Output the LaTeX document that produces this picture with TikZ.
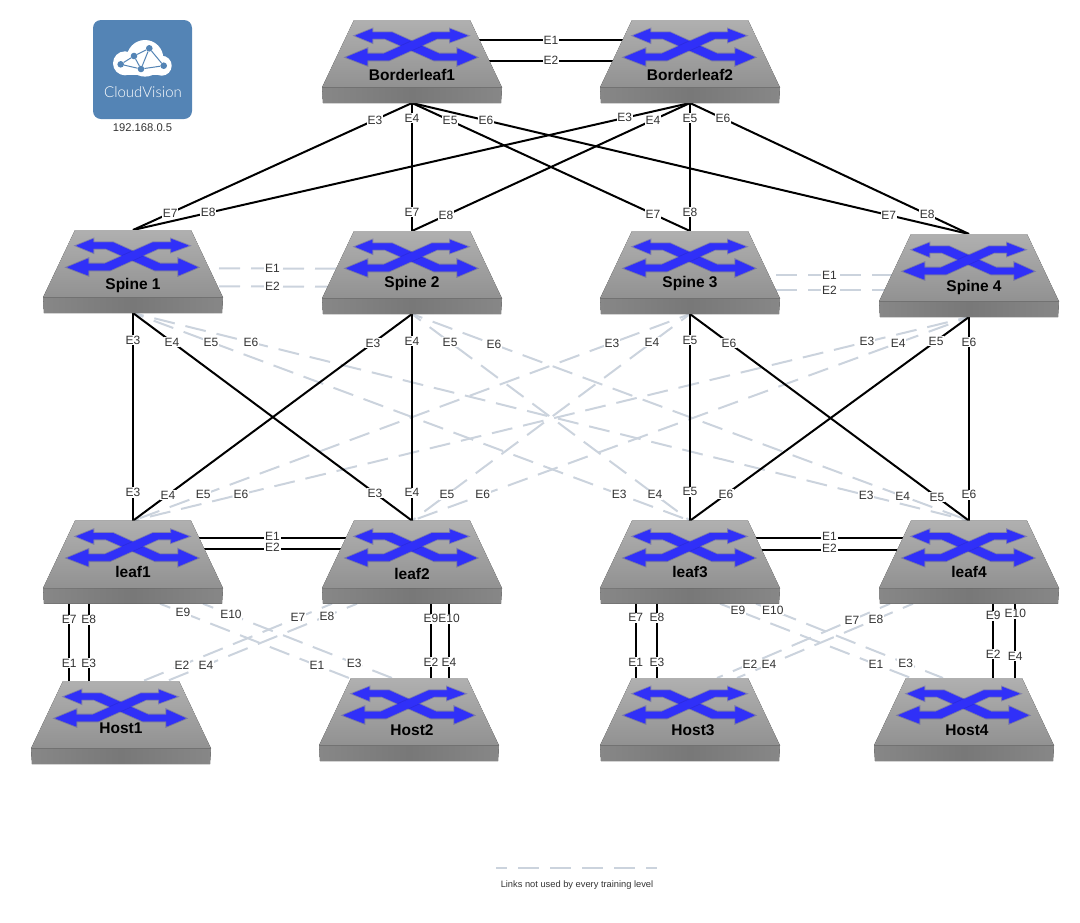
\documentclass[tikz,border=0pt]{standalone}
\usepackage{fontspec}
\setmainfont{Liberation Sans}
\newfontfamily\logofont{Lato Light}
\pgfdeclarelayer{background}
\pgfsetlayers{background,main}

\definecolor{unused}{HTML}{CBD3DD}
\definecolor{swblue}{HTML}{3030F8}
\definecolor{cvblue}{HTML}{5484B5}
\definecolor{labelgray}{HTML}{333333}

\tikzset{
    swbody/.style={rectangle, minimum width=180pt, minimum height=83pt, inner sep=0pt, outer sep=0pt},
    swlabel/.style={font=\fontsize{15.5}{16}\selectfont\bfseries, text=black, inner sep=0pt},
    swarrow/.style={fill=swblue, draw=swblue, line width=.8pt, line join=round, preaction={draw=swblue!70!black, line width=2.6pt, opacity=.3}},
    elabel/.style={font=\fontsize{12}{12}\selectfont, text=labelgray, fill=white, inner sep=0.8pt},
    used/.style={draw=black, line width=2pt},
    notused/.style={draw=unused, line width=2pt, dash pattern=on 21pt off 11pt, dash phase=10pt},
    netdot/.style={circle, fill=cvblue, minimum size=6.6pt, inner sep=0pt},
    netline/.style={draw=cvblue, line width=1pt}
}

% #1 name, #2 centre x, #3 top y, #4 text, #5 text x offset, #6 text y offset
\newcommand{\switchbox}[6]{
    \begin{scope}[shift={(#2,#3)}]
        \node (#1) [swbody] at (0,41.5) {};
        \fill[left color=black!47, right color=black!47, middle color=black!53]
            (-90,67.5) -- (90,67.5) -- (89,83) -- (-89,83) -- cycle;
        \fill[top color=black!31, middle color=black!34, bottom color=black!43]
            (-58,0) -- (58,0) -- (90,67.5) -- (-90,67.5) -- cycle;
        \path[swarrow] (-56,15.7) -- (-40,9.3) -- (-40,12.7) -- (-20,12.7) -- (27,34) -- (45.7,34) -- (45.7,29)
            -- (64,37.3) -- (45.7,45) -- (45.7,40) -- (22,40) -- (-27,18.3) -- (-40,18.3) -- (-40,22.3) -- cycle;
        \path[swarrow] (-65,37.3) -- (-45,29) -- (-45,34) -- (-28,34) -- (20,12.7) -- (38.3,12.7) -- (38.3,9.3)
            -- (55,15.7) -- (38.3,21.7) -- (38.3,18.3) -- (25,18.3) -- (-23,40) -- (-45,40) -- (-45,45) -- cycle;
        \node (#1label) [swlabel] at (#5,#6) {#4};
    \end{scope}
}

\begin{document}
\begin{tikzpicture}[x=1pt, y=-1pt]

        \useasboundingbox (0,0) rectangle (1080,922);

        % CloudVision logo
        \node (cvbox) [rectangle, rounded corners=8pt, fill=cvblue, minimum size=99pt, inner sep=0pt] at (142.5,69.5) {};
        \fill[white] (125,63.3) circle (12) (145,58.3) circle (18.3) (161.7,65.7) circle (10);
        \fill[white] (125,62) rectangle (162,75.4);
        \node (net1) [netdot] at (120.7,64.3) {};
        \node (net2) [netdot] at (134,56) {};
        \node (net3) [netdot] at (149.3,48.3) {};
        \node (net4) [netdot] at (141,69) {};
        \node (net5) [netdot] at (163.7,65.7) {};
        \draw[netline] (net1) -- (net2);
        \draw[netline] (net2) -- (net3);
        \draw[netline] (net3) -- (net4);
        \draw[netline] (net2) -- (net4);
        \draw[netline] (net1) -- (net4);
        \draw[netline] (net4) -- (net5);
        \draw[netline] (net3) -- (net5);
        \node (cvname) [font=\logofont\fontsize{15}{15}\selectfont, text=white, inner sep=0pt] at (143,92) {CloudVision};
        \node (cvip) [font=\fontsize{11.2}{12}\selectfont, text=labelgray, inner sep=0pt] at (142.5,128) {192.168.0.5};

        % Switches
        \switchbox{bl1}{412}{20}{Borderleaf1}{0}{55}
        \switchbox{bl2}{690}{20}{Borderleaf2}{0}{55}
        \switchbox{spine1}{133}{230}{Spine 1}{0}{55.7}
        \switchbox{spine2}{412}{231}{Spine 2}{0}{52}
        \switchbox{spine3}{690}{231}{Spine 3}{0}{52}
        \switchbox{spine4}{969}{234}{Spine 4}{5}{53}
        \switchbox{leaf1}{133}{520.7}{leaf1}{0}{51}
        \switchbox{leaf2}{412}{520.7}{leaf2}{0}{53}
        \switchbox{leaf3}{690}{520.7}{leaf3}{0}{51}
        \switchbox{leaf4}{969}{520.7}{leaf4}{0}{51}
        \switchbox{host1}{121}{681}{Host1}{0}{47}
        \switchbox{host2}{409}{678}{Host2}{3}{52}
        \switchbox{host3}{690}{678}{Host3}{3}{52}
        \switchbox{host4}{964}{678}{Host4}{3}{52}

        \begin{pgfonlayer}{background}

        % Unused links, spine to leaf
        \draw[notused] (spine1.south) -- (leaf3.north) node[elabel, pos=.14] {E5} node[elabel, pos=.873] {E3};
        \draw[notused] (spine1.south) -- (leaf4.north) node[elabel, pos=.141] {E6} node[elabel, pos=.877] {E3};
        \draw[notused] (spine2.south) -- (leaf3.north) node[elabel, pos=.137] {E5} node[elabel, pos=.874] {E4};
        \draw[notused] (spine2.south) -- (leaf4.north) node[elabel, pos=.147] {E6} node[elabel, pos=.881] {E4};
        \draw[notused] (spine3.south) -- (leaf1.north) node[elabel, pos=.14] {E3} node[elabel, pos=.874] {E5};
        \draw[notused] (spine3.south) -- (leaf2.north) node[elabel, pos=.137] {E4} node[elabel, pos=.874] {E5};
        \draw[notused] (spine4.south) -- (leaf1.north) node[elabel, pos=.122] {E3} node[elabel, pos=.871] {E6};
        \draw[notused] (spine4.south) -- (leaf2.north) node[elabel, pos=.127] {E4} node[elabel, pos=.873] {E6};

        % Unused links, spine pairs
        \draw[notused] ([yshift=3.5pt]spine1.center) -- ([yshift=3.5pt]spine2.center) node[elabel, midway] {E1};
        \draw[notused] ([yshift=-14.5pt]spine1.center) -- ([yshift=-14.5pt]spine2.center) node[elabel, midway] {E2};
        \draw[notused] ([yshift=-2.5pt]spine3.center) -- ([yshift=.5pt]spine4.center) node[elabel, midway] {E1};
        \draw[notused] ([yshift=-17.5pt]spine3.center) -- ([yshift=-14.5pt]spine4.center) node[elabel, midway] {E2};

        % Unused links, leaf to host
        \draw[notused] ([xshift=27pt]leaf1.south) -- ([xshift=-60pt]host2.north) node[elabel, pos=.122] {E9} node[elabel, pos=.83] {E1};
        \draw[notused] ([xshift=70pt]leaf1.south) -- ([xshift=-17pt]host2.north) node[elabel, pos=.148] {E10} node[elabel, pos=.8] {E3};
        \draw[notused] ([xshift=-80pt]leaf2.south) -- ([xshift=22pt]host1.north) node[elabel, pos=.18] {E7} node[elabel, pos=.794] {E2};
        \draw[notused] ([xshift=-55pt]leaf2.south) -- ([xshift=46pt]host1.north) node[elabel, pos=.158] {E8} node[elabel, pos=.795] {E4};
        \draw[notused] ([xshift=30pt]leaf3.south) -- ([xshift=-53pt]host4.north) node[elabel, pos=.094] {E9} node[elabel, pos=.817] {E1};
        \draw[notused] ([xshift=66pt]leaf3.south) -- ([xshift=-21pt]host4.north) node[elabel, pos=.09] {E10} node[elabel, pos=.8] {E3};
        \draw[notused] ([xshift=-79pt]leaf4.south) -- ([xshift=27pt]host3.north) node[elabel, pos=.22] {E7} node[elabel, pos=.81] {E2};
        \draw[notused] ([xshift=-56pt]leaf4.south) -- ([xshift=47pt]host3.north) node[elabel, pos=.21] {E8} node[elabel, pos=.818] {E4};

        % Border leaf to spine
        \draw[used] (bl1.south) -- (spine1.north) node[elabel, pos=.133] {E3} node[elabel, pos=.867] {E7};
        \draw[used] (bl1.south) -- (spine2.north) node[elabel, pos=.117] {E4} node[elabel, pos=.852] {E7};
        \draw[used] (bl1.south) -- (spine3.north) node[elabel, pos=.137] {E5} node[elabel, pos=.867] {E7};
        \draw[used] (bl1.south) -- (spine4.north) node[elabel, pos=.133] {E6} node[elabel, pos=.856] {E7};
        \draw[used] (bl2.south) -- (spine1.north) node[elabel, pos=.117] {E3} node[elabel, pos=.865] {E8};
        \draw[used] (bl2.south) -- (spine2.north) node[elabel, pos=.133] {E4} node[elabel, pos=.878] {E8};
        \draw[used] (bl2.south) -- (spine3.north) node[elabel, pos=.117] {E5} node[elabel, pos=.852] {E8};
        \draw[used] (bl2.south) -- (spine4.north) node[elabel, pos=.118] {E6} node[elabel, pos=.85] {E8};

        % Spine to leaf
        \draw[used] (spine1.south) -- (leaf1.north) node[elabel, pos=.131] {E3} node[elabel, pos=.864] {E3};
        \draw[used] (spine1.south) -- (leaf2.north) node[elabel, pos=.14] {E4} node[elabel, pos=.867] {E3};
        \draw[used] (spine2.south) -- (leaf1.north) node[elabel, pos=.14] {E3} node[elabel, pos=.875] {E4};
        \draw[used] (spine2.south) -- (leaf2.north) node[elabel, pos=.131] {E4} node[elabel, pos=.864] {E4};
        \draw[used] (spine3.south) -- (leaf3.north) node[elabel, pos=.126] {E5} node[elabel, pos=.86] {E5};
        \draw[used] (spine3.south) -- (leaf4.north) node[elabel, pos=.14] {E6} node[elabel, pos=.885] {E5};
        \draw[used] (spine4.south) -- (leaf3.north) node[elabel, pos=.118] {E5} node[elabel, pos=.871] {E6};
        \draw[used] (spine4.south) -- (leaf4.north) node[elabel, pos=.123] {E6} node[elabel, pos=.873] {E6};

        % Peer links
        \draw[used] ([yshift=21.5pt]bl1.center) -- ([yshift=21.5pt]bl2.center) node[elabel, midway] {E1};
        \draw[used] ([yshift=1pt]bl1.center) -- ([yshift=1pt]bl2.center) node[elabel, midway] {E2};
        \draw[used] ([yshift=24.5pt]leaf1.center) -- ([yshift=24.5pt]leaf2.center) node[elabel, midway, yshift=1.5pt] {E1};
        \draw[used, line width=1.5pt] ([yshift=13pt]leaf1.center) -- ([yshift=13pt]leaf2.center) node[elabel, midway, yshift=1.5pt] {E2};
        \draw[used] ([yshift=24pt]leaf3.center) -- ([yshift=24pt]leaf4.center) node[elabel, midway, yshift=1.5pt] {E1};
        \draw[used, line width=1.5pt] ([yshift=12pt]leaf3.center) -- ([yshift=12pt]leaf4.center) node[elabel, midway, yshift=1.5pt] {E2};

        % Leaf to host
        \draw[used] ([xshift=-63.7pt]leaf1.south) -- ([xshift=-51.7pt]host1.north) node[elabel, pos=.205] {E7} node[elabel, pos=.77] {E1};
        \draw[used] ([xshift=-44.3pt]leaf1.south) -- ([xshift=-32.3pt]host1.north) node[elabel, pos=.205] {E8} node[elabel, pos=.77] {E3};
        \draw[used] ([xshift=19pt]leaf2.south) -- ([xshift=22pt]host2.north) node[elabel, pos=.2] {E9} node[elabel, pos=.787] {E2};
        \draw[used] ([xshift=37pt]leaf2.south) -- ([xshift=40pt]host2.north) node[elabel, pos=.2] {E10} node[elabel, pos=.787] {E4};
        \draw[used] ([xshift=-54.3pt]leaf3.south) -- ([xshift=-54.3pt]host3.north) node[elabel, pos=.187] {E7} node[elabel, pos=.783] {E1};
        \draw[used] ([xshift=-33pt]leaf3.south) -- ([xshift=-33pt]host3.north) node[elabel, pos=.187] {E8} node[elabel, pos=.783] {E3};
        \draw[used] ([xshift=24.3pt]leaf4.south) -- ([xshift=29.3pt]host4.north) node[elabel, pos=.16] {E9} node[elabel, pos=.68] {E2};
        \draw[used] ([xshift=46.3pt]leaf4.south) -- ([xshift=51.3pt]host4.north) node[elabel, pos=.133] {E10} node[elabel, pos=.707] {E4};

        \end{pgfonlayer}

        % Legend
        \coordinate (legendleft) at (496,868);
        \coordinate (legendright) at (657,868);
        \draw[notused] (legendleft) -- (legendright);
        \node (legendtext) [font=\fontsize{9.3}{10}\selectfont, text=labelgray, inner sep=0pt] at (577,885) {Links not used by every training level};

\end{tikzpicture}
\end{document}
